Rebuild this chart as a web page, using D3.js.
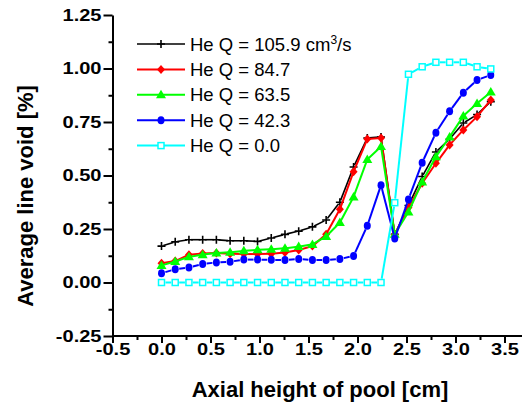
<!DOCTYPE html>
<html>
<head>
<meta charset="utf-8">
<script src="https://cdn.jsdelivr.net/npm/d3@7"></script>
<style>
  body { margin: 0; background: #fff; }
  text { font-family: Arial, "Liberation Sans", sans-serif; }
</style>
</head>
<body>
<div id="chart"></div>
<script>
'use strict';

// axial positions [cm]
const heights = [0.00, 0.14, 0.28, 0.42, 0.56, 0.70, 0.84, 0.98, 1.12, 1.26, 1.40, 1.54, 1.68,
                 1.82, 1.96, 2.10, 2.24, 2.38, 2.52, 2.66, 2.80, 2.94, 3.08, 3.22, 3.36];

// average line void per helium flow rate
const voidQ1059 = [0.170, 0.190, 0.200, 0.200, 0.200, 0.195, 0.195, 0.192, 0.208, 0.225, 0.240, 0.260, 0.292,
                   0.375, 0.540, 0.675, 0.680, 0.225, 0.360, 0.495, 0.610, 0.670, 0.745, 0.785, 0.845];
const voidQ847 = [0.090, 0.100, 0.130, 0.136, 0.138, 0.134, 0.133, 0.133, 0.134, 0.140, 0.152, 0.170, 0.225,
                  0.342, 0.518, 0.670, 0.675, 0.225, 0.350, 0.464, 0.557, 0.643, 0.713, 0.775, 0.853];
const voidQ635 = [0.080, 0.098, 0.120, 0.130, 0.138, 0.141, 0.148, 0.153, 0.155, 0.160, 0.168, 0.178, 0.215,
                  0.280, 0.400, 0.575, 0.635, 0.225, 0.330, 0.470, 0.588, 0.680, 0.778, 0.837, 0.890];
const voidQ423 = [0.043, 0.062, 0.070, 0.086, 0.094, 0.097, 0.107, 0.107, 0.106, 0.105, 0.110, 0.105, 0.105,
                  0.110, 0.124, 0.265, 0.455, 0.206, 0.388, 0.560, 0.700, 0.800, 0.887, 0.946, 0.970];
const voidQ0 = [0.000, 0.000, 0.000, 0.000, 0.000, 0.000, 0.000, 0.000, 0.000, 0.000, 0.000, 0.000, 0.000,
                0.000, 0.000, 0.000, 0.000, 0.373, 0.973, 1.008, 1.029, 1.029, 1.029, 1.008, 0.998];

const seriesNames = ['He Q = 105.9', 'He Q = 84.7', 'He Q = 63.5', 'He Q = 42.3', 'He Q = 0.0'];
const seriesValues = [voidQ1059, voidQ847, voidQ635, voidQ423, voidQ0];
const seriesColors = ['#000000', '#ff0000', '#00ff00', '#0000ff', '#00ffff'];
const seriesSymbols = ['plus', 'diamond', 'triangle', 'circle', 'square'];
const seriesGaps = [2, 0, 1, 4, 4];

const xTicks = [-0.5, 0.0, 0.5, 1.0, 1.5, 2.0, 2.5, 3.0, 3.5];
const xMinorTicks = [-0.25, 0.25, 0.75, 1.25, 1.75, 2.25, 2.75, 3.25];
const yTicks = [-0.25, 0.00, 0.25, 0.50, 0.75, 1.00, 1.25];
const yMinorTicks = [-0.125, 0.125, 0.375, 0.625, 0.875, 1.125];

const width = 522, height = 405;
const labelStretch = 1.18;   // tick labels in the original are drawn a bit wide

const svg = d3.select('#chart').append('svg')
    .attr('width', width).attr('height', height);

const x = d3.scaleLinear().domain([-0.5, 3.5]).range([112.5, 504.5]);
const y = d3.scaleLinear().domain([-0.25, 1.25]).range([336, 15]);

// axes
const xAxis = svg.append('g').attr('transform', 'translate(0,336)')
    .call(d3.axisBottom(x).tickValues(xTicks).tickFormat(d => d.toFixed(1))
        .tickSize(7).tickSizeOuter(0).tickPadding(0));
xAxis.select('.domain').remove();
svg.append('g').attr('transform', 'translate(0,336)')
    .call(d3.axisBottom(x).tickValues(xMinorTicks).tickFormat('').tickSize(4).tickSizeOuter(0))
    .select('.domain').remove();
svg.append('line')
    .attr('x1', x(-0.5)).attr('x2', width).attr('y1', 336).attr('y2', 336)
    .attr('stroke', '#000').attr('stroke-width', 2);

const yAxis = svg.append('g').attr('transform', 'translate(112.5,0)')
    .call(d3.axisLeft(y).tickValues(yTicks).tickFormat(d => d.toFixed(2))
        .tickSize(9).tickSizeOuter(0).tickPadding(2));
svg.append('g').attr('transform', 'translate(112.5,0)')
    .call(d3.axisLeft(y).tickValues(yMinorTicks).tickFormat('').tickSize(4).tickSizeOuter(0))
    .select('.domain').remove();

svg.selectAll('.domain').attr('stroke-width', 2);
svg.selectAll('.tick line').attr('stroke-width', 2);
svg.selectAll('.tick text')
    .attr('font-size', 17).attr('font-weight', 'bold').attr('fill', '#000')
    .attr('font-family', 'Arial, "Liberation Sans", sans-serif')
    .attr('transform', `scale(${labelStretch},1)`);
yAxis.selectAll('.tick text').attr('x', -11 / labelStretch);

// axis titles
svg.append('text')
    .attr('x', 320).attr('y', 396.5).attr('text-anchor', 'middle')
    .attr('font-size', 22).attr('font-weight', 'bold')
    .text('Axial height of pool [cm]');
svg.append('text')
    .attr('transform', 'translate(33,196) rotate(-90)').attr('text-anchor', 'middle')
    .attr('font-size', 22).attr('font-weight', 'bold')
    .text('Average line void [%]');

function drawSymbol(g, kind, color, cx, cy) {
    if (kind === 'plus') {
        g.append('path').attr('d', `M${cx - 4},${cy}H${cx + 4}M${cx},${cy - 4}V${cy + 4}`)
            .attr('stroke', color).attr('stroke-width', 1.6).attr('fill', 'none');
    } else if (kind === 'diamond') {
        g.append('path').attr('d', `M${cx},${cy - 4.5}L${cx + 4},${cy}L${cx},${cy + 4.5}L${cx - 4},${cy}Z`)
            .attr('fill', color);
    } else if (kind === 'triangle') {
        g.append('path').attr('d', `M${cx},${cy - 5}L${cx + 5},${cy + 3.5}L${cx - 5},${cy + 3.5}Z`)
            .attr('fill', color);
    } else if (kind === 'circle') {
        g.append('ellipse').attr('cx', cx).attr('cy', cy).attr('rx', 3.5).attr('ry', 4)
            .attr('fill', color);
    } else if (kind === 'square') {
        g.append('rect').attr('x', cx - 3).attr('y', cy - 3).attr('width', 6).attr('height', 6)
            .attr('fill', '#fff').attr('stroke', color).attr('stroke-width', 1.5);
    }
}

// series: line segments with a gap to each symbol, then symbols
seriesValues.forEach((values, s) => {
    const g = svg.append('g');
    const pts = heights.map((h, i) => [x(h), y(values[i])]);
    const gap = seriesGaps[s];
    for (let i = 0; i < pts.length - 1; i++) {
        const [x1, y1] = pts[i], [x2, y2] = pts[i + 1];
        const len = Math.hypot(x2 - x1, y2 - y1);
        if (len <= 2 * gap) continue;
        const ux = (x2 - x1) / len, uy = (y2 - y1) / len;
        g.append('line')
            .attr('x1', x1 + ux * gap).attr('y1', y1 + uy * gap)
            .attr('x2', x2 - ux * gap).attr('y2', y2 - uy * gap)
            .attr('stroke', seriesColors[s]).attr('stroke-width', s === 0 ? 1.6 : 2);
    }
    pts.forEach(([px, py]) => drawSymbol(g, seriesSymbols[s], seriesColors[s], px, py));
});

// legend
const legend = svg.append('g');
seriesNames.forEach((name, s) => {
    const cy = 44 + s * 25.4;
    legend.append('line').attr('x1', 137).attr('x2', 185).attr('y1', cy).attr('y2', cy)
        .attr('stroke', seriesColors[s]).attr('stroke-width', s === 0 ? 1.6 : 2);
    drawSymbol(legend, seriesSymbols[s], seriesColors[s], 161, cy);
    const t = legend.append('text').attr('x', 190).attr('y', cy + 6.5)
        .attr('font-size', 18.5).attr('fill', '#000').text(name);
    if (s === 0) {
        t.append('tspan').text(' cm');
        t.append('tspan').attr('font-size', 12).attr('dy', -7).text('3');
        t.append('tspan').attr('dy', 7).text('/s');
    }
});
</script>
</body>
</html>
